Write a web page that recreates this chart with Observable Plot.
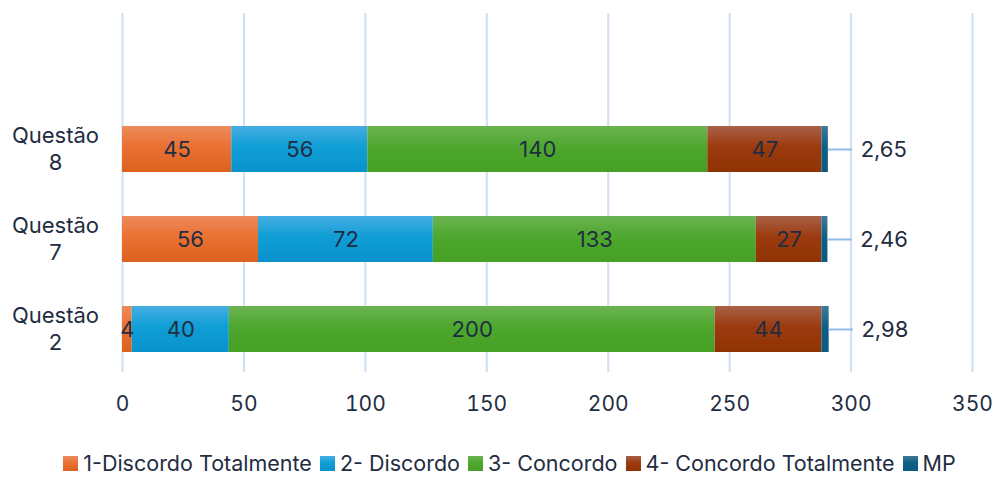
<!DOCTYPE html>
<html><head><meta charset="utf-8">
<script src="https://cdn.jsdelivr.net/npm/d3@7"></script>
<script src="https://cdn.jsdelivr.net/npm/@observablehq/plot@0.6"></script>
<style>
html,body{margin:0;background:#fff;font-family:Inter,"Noto Sans",sans-serif;color:#1f2d42;overflow:hidden;}
#chart svg{display:block;}
#legend{display:flex;justify-content:center;align-items:center;margin-top:7px;height:24px;line-height:24px;font-size:21.5px;color:#1f2d42;white-space:nowrap;padding-left:22px;}
#legend .item{display:flex;align-items:center;margin:0 4px;}
#legend .sw{width:15px;height:15px;margin-right:5px;display:inline-block;}
</style></head><body>
<svg width="0" height="0" style="position:absolute"><defs id="gdefs"></defs></svg>
<div id="chart"></div>
<div id="legend"></div>
<script>
const questions = ["Questão 8", "Questão 7", "Questão 2"];
const categories = ["1-Discordo Totalmente", "2- Discordo", "3- Concordo", "4- Concordo Totalmente", "MP"];
const discordoTotalmente = [45, 56, 4];
const discordo = [56, 72, 40];
const concordo = [140, 133, 200];
const concordoTotalmente = [47, 27, 44];
const mp = [2.65, 2.46, 2.98];
const mpLabels = ["2,65", "2,46", "2,98"];
const xTicks = [0, 50, 100, 150, 200, 250, 300, 350];

// style palette (top, mid, bottom gradient stops)
const palette = [
  ["#ED8B5C", "#E97132", "#DC611E"],
  ["#46AEE2", "#0F9ED5", "#0A92CC"],
  ["#6CB352", "#4EA72E", "#45A024"],
  ["#A86248", "#9C3A0E", "#8F3304"],
  ["#3F7A9A", "#0F5F85", "#0B5A80"]
];
const textColor = "#1f2d42";

const defs = d3.select("#gdefs");
palette.forEach((p, i) => {
  const g = defs.append("linearGradient").attr("id", "g" + i).attr("x1", 0).attr("y1", 0).attr("x2", 0).attr("y2", 1);
  g.append("stop").attr("offset", "0%").attr("stop-color", p[0]);
  g.append("stop").attr("offset", "45%").attr("stop-color", p[1]);
  g.append("stop").attr("offset", "100%").attr("stop-color", p[2]);
});

const series = [discordoTotalmente, discordo, concordo, concordoTotalmente, mp];
const rows = [];
questions.forEach((q, qi) => {
  series.forEach((s, ci) => rows.push({q, cat: categories[ci], ci, value: s[qi]}));
});
const totals = questions.map((q, qi) => ({q, total: d3.sum(series, s => s[qi]), label: mpLabels[qi]}));

const chart = Plot.plot({
  width: 997,
  height: 444,
  marginLeft: 122,
  marginRight: 25,
  marginTop: 13,
  marginBottom: 72,
  style: {fontFamily: "Inter, 'Noto Sans', sans-serif", color: textColor, background: "#fff"},
  x: {domain: [0, 350], ticks: xTicks},
  y: {domain: questions, range: [104, 374], paddingInner: 0.49, paddingOuter: 0.245},
  color: {type: "identity"},
  marks: [
    Plot.ruleX(xTicks, {stroke: "#cfe0f6", strokeWidth: 2}),
    Plot.barX(rows, Plot.stackX({x: "value", y: "q", fill: d => `url(#g${d.ci})`, order: null})),
    Plot.textX(rows, Plot.stackX({x: "value", y: "q", order: null, text: d => d.cat === "MP" ? "" : String(d.value), fill: textColor, fontSize: 22})),
    Plot.ruleY(totals, {y: "q", x1: "total", x2: d => d.total + 10, stroke: "#8fbbe8", strokeWidth: 2}),
    Plot.text(totals, {y: "q", x: d => d.total + 10, text: "label", textAnchor: "start", dx: 8, fill: textColor, fontSize: 22}),
    Plot.axisX({ticks: xTicks, tickSize: 0, tickPadding: 24, fontSize: 21, label: null, fill: textColor}),
    Plot.axisY({tickSize: 0, tickPadding: 67, textAnchor: "middle", fontSize: 22, lineHeight: 1.25, dy: -2, label: null, fill: textColor, tickFormat: d => d.replace(" ", "\n")})
  ]
});
document.getElementById("chart").append(chart);

const legend = d3.select("#legend");
categories.forEach((c, i) => {
  const it = legend.append("div").attr("class", "item");
  it.append("span").attr("class", "sw").style("background", `linear-gradient(${palette[i][0]}, ${palette[i][1]} 45%, ${palette[i][2]})`);
  it.append("span").text(c);
});
</script>
</body></html>
